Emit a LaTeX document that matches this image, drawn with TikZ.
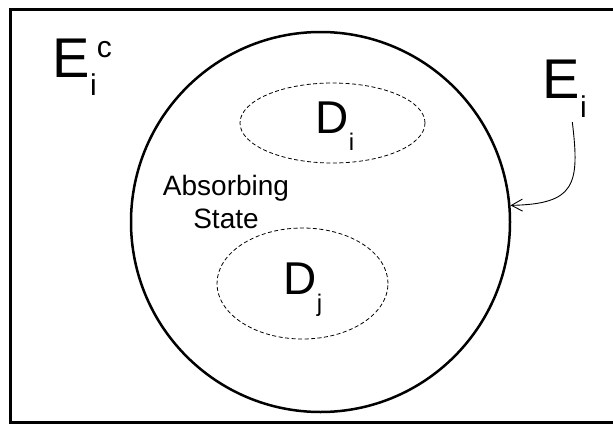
\documentclass[tikz,border=0pt]{standalone}
\usepackage{fontspec}
\setmainfont{Liberation Sans}
\usetikzlibrary{shapes.geometric, arrows.meta}

\tikzset{
  region/.style={draw, ellipse, line width=2.5pt, inner sep=0pt},
  subset/.style={draw, ellipse, dash pattern=on 4pt off 2.5pt, line width=0.8pt, inner sep=0pt},
  bigtxt/.style={inner sep=0pt, anchor=base west, font=\fontsize{56}{56}\selectfont},
  midtxt/.style={inner sep=0pt, anchor=base west, font=\fontsize{46}{46}\selectfont},
  conn/.style={line width=0.9pt, -{Straight Barb[length=11pt, width=12pt]}},
}
\newcommand{\lowtxt}[3]{\raisebox{#1}{\fontsize{#2}{#2}\selectfont #3}}

\begin{document}
\begin{tikzpicture}[x=1pt, y=-1pt]
\useasboundingbox (0,0) rectangle (613,423);
\draw[line width=3pt] (10,9.5) rectangle (625,422.5);

\node (state) [region, minimum width=379, minimum height=380] at (320.5,222) {};
\node (di) [subset, minimum width=185, minimum height=80] at (332.5,123) {};
\node (dj) [subset, minimum width=171, minimum height=111] at (302.5,283.5) {};

\node (eic) [bigtxt] at (52.6,77) {E\lowtxt{-18pt}{30}{i}\lowtxt{20pt}{30}{c}};
\node (ei) [bigtxt] at (542.6,98) {E\lowtxt{-19pt}{30}{i}};
\node (dilabel) [midtxt] at (315.4,133) {D\lowtxt{-17pt}{24}{i}};
\node (djlabel) [midtxt] at (283.4,294) {D\lowtxt{-17pt}{24}{j}};
\node (abs) [inner sep=0pt, anchor=north, align=center, font=\fontsize{28}{33}\selectfont] at (226,175) {Absorbing\\State};

\draw[conn] ([xshift=7.5pt,yshift=-5pt]ei.south) .. controls (580,185) and (575,204) .. (state.5);
\end{tikzpicture}
\end{document}
